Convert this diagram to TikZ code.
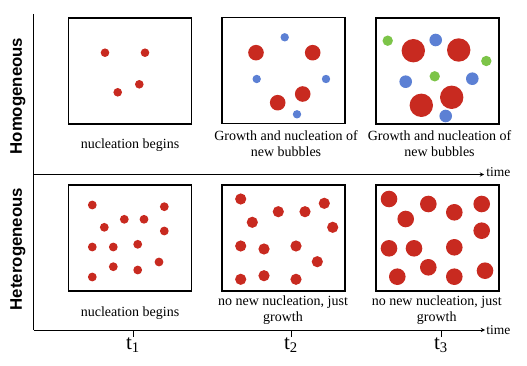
\documentclass[tikz,border=0pt]{standalone}
\usepackage{fontspec}
\setmainfont{Liberation Serif}
\newfontfamily\rowfont{Liberation Sans}
\definecolor{bubred}{RGB}{200,42,32}
\definecolor{bubblue}{RGB}{92,128,212}
\definecolor{bubgreen}{RGB}{124,196,72}
\tikzset{
  box/.style={draw, line width=1.6pt, minimum width=123pt, minimum height=106pt, inner sep=0pt},
  lbl/.style={align=center, font=\fontsize{14}{16}\selectfont},
  rowlbl/.style={rotate=90, font=\rowfont\bfseries\fontsize{16.8}{18}\selectfont},
  tlbl/.style={font=\fontsize{21}{22}\selectfont},
}
\begin{document}
\begin{tikzpicture}[x=1pt, y=-1pt, >=stealth, line width=0.9pt]
  \useasboundingbox (0,0) rectangle (527,366);
  % axes
  \coordinate (top) at (33.5,14);
  \coordinate (O) at (33.5,330);
  \coordinate (mid) at (33.5,174.5);
  \coordinate (midend) at (484,174.5);
  \coordinate (botend) at (485,330);
  \draw (top) -- (O);
  \draw[->] (mid) -- (midend) node[right, lbl, font=\fontsize{13.5}{14}\selectfont, inner sep=2pt, yshift=2pt] (time1) {time};
  \draw[->] (O) -- (botend) node[right, lbl, font=\fontsize{13.5}{14}\selectfont, inner sep=1pt] (time2) {time};

  % row labels
  \node[rowlbl] (homo) at (18,96) {Homogeneous};
  \node[rowlbl] (hetero) at (18,249) {Heterogeneous};

  % homogeneous bubbles, t1
  \foreach \px/\py in {105/52.7, 145/52.7, 117.7/92.3, 139.3/84.3}
    \fill[bubred] (\px,\py) circle (4.3pt);
  % homogeneous bubbles, t2
  \foreach \px/\py in {256/52.7, 312.7/52.7, 277.7/102.7, 302.7/94}
    \fill[bubred] (\px,\py) circle (7.8pt);
  \foreach \px/\py in {284.7/37.3, 256.7/79, 326/79, 297/114.3}
    \fill[bubblue] (\px,\py) circle (4.2pt);
  % homogeneous bubbles, t3
  \foreach \px/\py in {413.3/50.7, 458.7/50, 421.3/105.3, 451.7/97.3}
    \fill[bubred] (\px,\py) circle (11.7pt);
  \foreach \px/\py in {435.7/40, 405.7/81.7, 472.3/78.7, 445.7/116}
    \fill[bubblue] (\px,\py) circle (6.3pt);
  \foreach \px/\py in {387.7/40.7, 486.3/61, 434.7/76.3}
    \fill[bubgreen] (\px,\py) circle (5.2pt);

  % heterogeneous bubbles, t1
  \foreach \px/\py in {92.3/205, 164.3/206.7, 104.3/227.3, 124.3/219.3, 144/219.3,
      164.3/231, 92.3/247, 113.3/247, 137.7/244.3, 113.3/266.7, 137.7/270,
      159/262, 92.3/277}
    \fill[bubred] (\px,\py) circle (4.4pt);
  % heterogeneous bubbles, t2
  \foreach \px/\py in {240.7/199, 252.3/222.3, 278.3/211.7, 305/211.7, 324.3/203.3,
      332.7/227.3, 240.7/246, 264/249, 296/246, 317.3/261.7, 240.7/279.3,
      264/275.7, 296/279.3}
    \fill[bubred] (\px,\py) circle (5.6pt);
  % heterogeneous bubbles, t3
  \foreach \px/\py in {389/199, 405.7/219, 428.3/204, 454.3/212.3, 481.7/204,
      481.7/230.7, 389/248.3, 414/248.3, 454.3/247.3, 397.3/276.7, 428.3/267.3,
      454.3/276.7, 485/270.7}
    \fill[bubred] (\px,\py) circle (8.3pt);

  % boxes
  \node[box] (b11) at (130,71) {};
  \node[box] (b12) at (283.5,70.5) {};
  \node[box] (b13) at (437.5,71) {};
  \node[box] (b21) at (130,238) {};
  \node[box] (b22) at (283.5,238) {};
  \node[box] (b23) at (437.5,238) {};

  % captions
  \node[lbl] (c11) at (130,145) {nucleation begins};
  \node[lbl] (c12) at (286,144) {Growth and nucleation of\\new bubbles};
  \node[lbl] (c13) at (439.5,144) {Growth and nucleation of\\new bubbles};
  \node[lbl] (c21) at (130,313) {nucleation begins};
  \node[lbl] (c22) at (283,310.5) {no new nucleation, just\\growth};
  \node[lbl] (c23) at (436.7,310.5) {no new nucleation, just\\growth};

  % time ticks
  \draw (133,330) -- ++(0,7) node[below, tlbl, inner sep=0.5pt] (t1) {t\textsubscript{1}};
  \draw (291,330) -- ++(0,7) node[below, tlbl, inner sep=0.5pt] (t2) {t\textsubscript{2}};
  \draw (441,330) -- ++(0,7) node[below, tlbl, inner sep=0.5pt] (t3) {t\textsubscript{3}};
\end{tikzpicture}
\end{document}
